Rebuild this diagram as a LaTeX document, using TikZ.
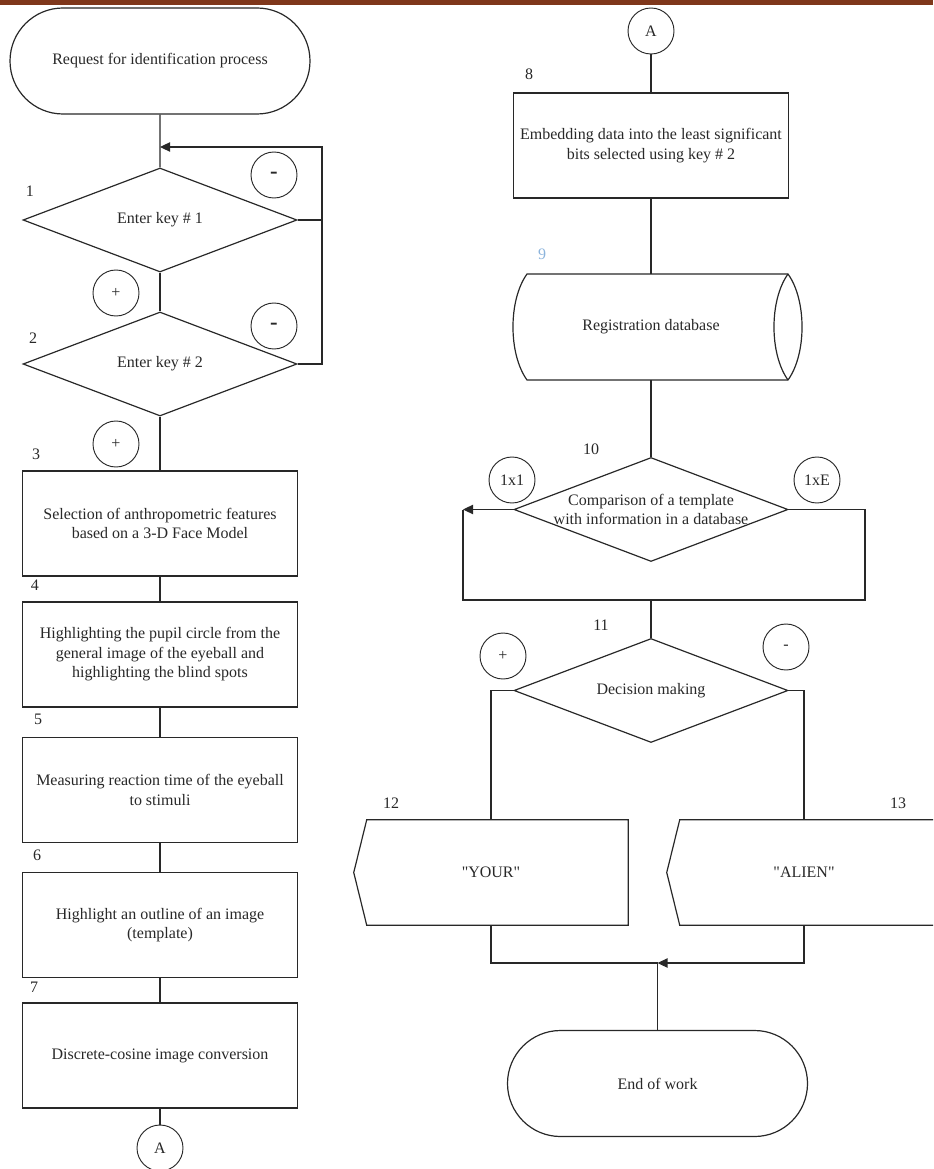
\documentclass[tikz,border=0pt]{standalone}
\usepackage{fontspec}
\setmainfont{Liberation Serif}[Ligatures=TeXOff]
\usetikzlibrary{positioning,shapes.geometric,shapes.misc,arrows.meta}
\definecolor{barred}{RGB}{127,55,27}
\definecolor{numblue}{RGB}{140,180,220}
\definecolor{ink}{RGB}{40,40,40}

\begin{document}
\begin{tikzpicture}[x=0.75pt,y=-0.75pt,
    every node/.style={font=\fontsize{12}{14.6}\selectfont,text=ink},
    term/.style={rounded rectangle,draw=ink,line width=0.9pt,minimum width=225pt,minimum height=79.5pt,inner sep=0pt},
    proc/.style={rectangle,draw=ink,line width=0.9pt,minimum width=206pt,minimum height=78.75pt,inner sep=0pt,align=center},
    cond/.style={diamond,draw=ink,line width=0.9pt,aspect=2.63,minimum width=205.5pt,minimum height=78pt,inner sep=0pt,align=center},
    conn/.style={circle,draw=ink,line width=0.7pt,minimum size=34.5pt,inner sep=0pt},
    outbox/.style={rectangle,minimum width=205.5pt,minimum height=78.75pt,inner sep=0pt},
    num/.style={inner sep=0pt},
    line/.style={draw=ink,line width=0.8pt},
    tip/.style={-{Triangle[length=7.5pt,width=7pt]}}
]
\useasboundingbox (0,0) rectangle (933,1169);
\clip (0,0) rectangle (933,1169);
\fill[barred] (0,0) rectangle (933,5);

% left column
\node[term] (start) at (160,61) {Request for identification process};
\node[cond] (k1) at (160,220) {Enter key \# 1};
\node[cond] (k2) at (160,364) {Enter key \# 2};
\node[proc] (b3) at (160,523.5) {Selection of anthropometric features\\based on a 3-D Face Model};
\node[proc] (b4) at (160,654.5) {Highlighting the pupil circle from the\\general image of the eyeball and\\highlighting the blind spots};
\node[proc] (b5) at (160,790) {Measuring reaction time of the eyeball\\to stimuli};
\node[proc] (b6) at (160,925) {Highlight an outline of an image\\(template)};
\node[proc] (b7) at (160,1055.5) {Discrete-cosine image conversion};
\node[conn] (conA) at (160,1148) {A};

\node[conn,font=\fontsize{17}{17}\bfseries] (no1) at (274,175) {-};
\node[conn] (yes1) at (116,293) {+};
\node[conn,font=\fontsize{17}{17}\bfseries] (no2) at (274,326) {-};
\node[conn] (yes2) at (116,444) {+};

\node[num] at (30,191) {1};
\node[num] at (33,338) {2};
\node[num] at (36,454) {3};
\node[num] at (35,585) {4};
\node[num] at (38,719) {5};
\node[num] at (37,855) {6};
\node[num] at (34,987) {7};

\draw[line] (start) -- (k1);
\draw[line] (k1) -- (k2);
\draw[line] (k2) -- (b3);
\draw[line] (b3) -- (b4);
\draw[line] (b4) -- (b5);
\draw[line] (b5) -- (b6);
\draw[line] (b6) -- (b7);
\draw[line] (b7) -- (conA);
\coordinate (back1) at (322,147);
\draw[line,tip] (k2.east) -| (back1) -- (back1 -| start.south);
\draw[line] (k1.east) -- (k1.east -| back1);

% right column
\node[conn] (conB) at (651,31) {A};
\node[proc] (b8) at (651,145.5) {Embedding data into the least significant\\bits selected using key \# 2};
\node[inner sep=0pt,minimum height=79.5pt] (db) at (651,327) {Registration database};
\draw[draw=ink,line width=0.9pt] (527,274) -- (788,274) .. controls (806.7,300) and (806.7,354) .. (788,380)
    -- (527,380) .. controls (508.3,354) and (508.3,300) .. (527,274) -- cycle;
\draw[draw=ink,line width=0.9pt] (788,274) .. controls (769.3,300) and (769.3,354) .. (788,380);
\node[cond] (cmp) at (651,509.5) {};
\node[align=center,inner sep=0pt] at (cmp) {Comparison of a template\\with information in a database};
\node[cond] (dec) at (651,690.5) {Decision making};
\node[outbox] (your) at (491,872.5) {"YOUR"};
\node[outbox] (alien) at (804,872.5) {"ALIEN"};
\foreach \b in {your,alien}
  \draw[draw=ink,line width=0.9pt] (\b.west) -- ([xshift=9.75pt]\b.north west) -- (\b.north east)
      -- (\b.south east) -- ([xshift=9.75pt]\b.south west) -- cycle;
\node[term] (finish) at (657.5,1083.5) {End of work};

\node[conn] (one) at (512,480) {1x1};
\node[conn] (all) at (817,480) {1xE};
\node[conn] (yes3) at (503,656) {+};
\node[conn] (no3) at (786,647) {-};

\node[num] at (529,74) {8};
\node[num,text=numblue] at (542,254) {9};
\node[num] at (591,449) {10};
\node[num] at (601,625) {11};
\node[num] at (391,803) {12};
\node[num] at (898,803) {13};

\draw[line] (conB) -- (b8);
\draw[line] (b8) -- (db);
\draw[line] (db) -- (cmp);
\coordinate (back2) at (865,600);
\coordinate (back3) at (463,600);
\draw[line] (cmp.east) -| (back2) -- (back3) -- (back3 |- cmp.west);
\draw[line,tip] (cmp.west) -- (cmp.west -| back3);
\draw[line] (cmp.south |- back2) -- (dec);
\draw[line] (dec.west) -| (your.north);
\draw[line] (dec.east) -| (alien.north);
\coordinate (meet) at (657.5,963);
\draw[line] (your.south) |- (meet);
\draw[line,tip] (alien.south) |- (meet);
\draw[line] (finish.north) -- (meet);
\end{tikzpicture}
\end{document}
